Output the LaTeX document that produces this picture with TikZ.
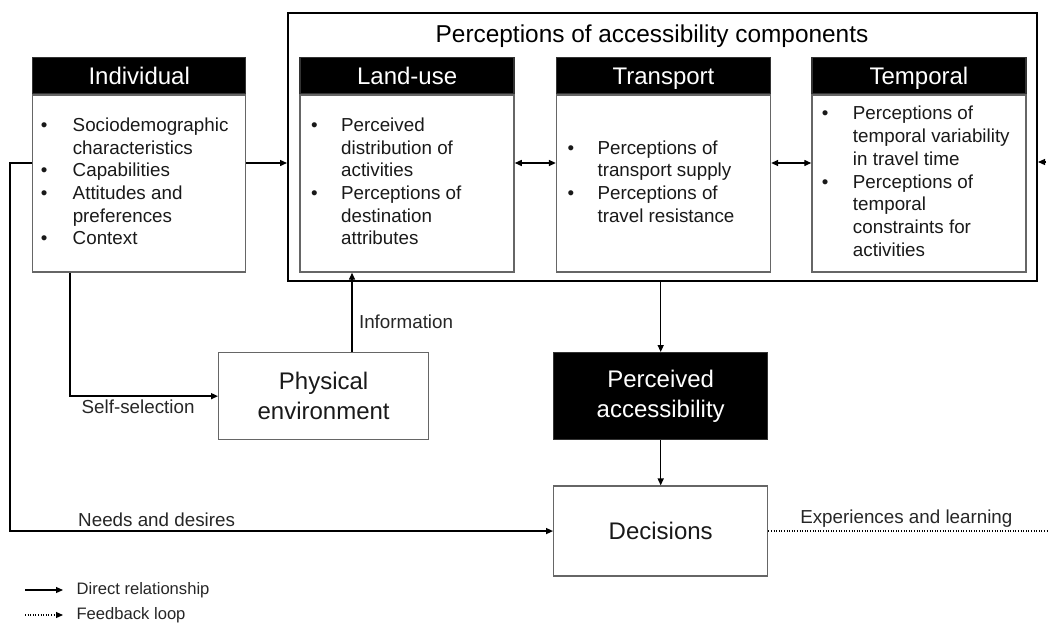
\documentclass[tikz,border=0pt]{standalone}
\usepackage{fontspec}
\setmainfont{Liberation Sans}
\usetikzlibrary{arrows.meta,positioning}

\newcommand\bodyfont{\fontsize{18.8}{22.7}\selectfont}
\newcommand\headfont{\fontsize{24}{29.5}\selectfont}
\newcommand\lgdfont{\fontsize{16.6}{19}\selectfont}

\begin{document}
\begin{tikzpicture}[x=1pt,y=-1pt,>={Triangle[length=7pt,width=6pt]},line width=1.4pt,
    hdr/.style={fill=black,draw=black!80,text=white,font=\headfont,minimum width=214,
      minimum height=36,text height=19.5pt,text depth=2.5pt,inner sep=0,anchor=north west},
    panel/.style={draw=black!60,line width=1.3pt,minimum width=214,minimum height=177,inner sep=0},
    lst/.style={font=\bodyfont,text=black!90,inner sep=0,anchor=west,align=left},
    blk/.style={fill=black,draw=black!80,text=white,font=\headfont,align=center,inner sep=0,
      minimum width=214,minimum height=87,anchor=north west},
    wbox/.style={draw=black!60,line width=1.3pt,font=\headfont,text=black!90,align=center,
      inner sep=0,anchor=north west},
    lbl/.style={font=\bodyfont,text=black!85},
    lgd/.style={font=\lgdfont,text=black!85,inner sep=0},
    arr/.style={->},
    fback/.style={->,line width=1.2pt,dash pattern=on 1pt off 1.6pt}]

  \useasboundingbox (0,0) rectangle (1048,626);

  % accessibility components
  \node[draw=black,line width=2pt,minimum width=749,minimum height=268,inner sep=0,
    anchor=north west] (comp) at (287,12) {};
  \node[font=\fontsize{24.4}{29}\selectfont] (ttl) at (652,36) {Perceptions of accessibility components};

  \node[hdr,minimum width=213] (indh) at (32,57) {Individual};
  \node[hdr,right=53pt of indh] (luh) {Land-use};
  \node[hdr,right=41pt of luh] (trh) {Transport};
  \node[hdr,right=40pt of trh] (tmh) {Temporal};

  \node[panel,minimum width=213,below=0pt of indh] (ind) {};
  \node[panel,below=0pt of luh] (lu) {};
  \node[panel,below=0pt of trh] (tr) {};
  \node[panel,below=0pt of tmh] (tm) {};

  \node[lst] (indtxt) at ([xshift=8]ind.west) {\begin{tabular}{@{}p{32pt}@{}l@{}}
    \textbullet & Sociodemographic\\ & characteristics\\
    \textbullet & Capabilities\\
    \textbullet & Attitudes and\\ & preferences\\
    \textbullet & Context\end{tabular}};
  \node[lst] (lutxt) at ([xshift=11]lu.west) {\begin{tabular}{@{}p{30pt}@{}l@{}}
    \textbullet & Perceived\\ & distribution of\\ & activities\\
    \textbullet & Perceptions of\\ & destination\\ & attributes\end{tabular}};
  \node[lst] (trtxt) at ([xshift=11]tr.west) {\begin{tabular}{@{}p{30pt}@{}l@{}}
    \textbullet & Perceptions of\\ & transport supply\\
    \textbullet & Perceptions of\\ & travel resistance\end{tabular}};
  \node[lst] (tmtxt) at ([xshift=10]tm.west) {\begin{tabular}{@{}p{31pt}@{}l@{}}
    \textbullet & Perceptions of\\ & temporal variability\\ & in travel time\\
    \textbullet & Perceptions of\\ & temporal\\ & constraints for\\ & activities\end{tabular}};

  % lower boxes
  \node[wbox,minimum width=210,minimum height=87] (phys) at (218,352) {Physical\\environment};
  \node[blk] (perc) at (553,352) {Perceived\\accessibility};
  \node[wbox,minimum width=214,minimum height=90,below=45pt of perc] (dec) {Decisions};

  \coordinate (mid) at (0,163);
  \coordinate (lft) at (10,0);
  \coordinate (ssel) at (70,0);
  \coordinate (info) at (352,0);
  \coordinate (fb) at (1062,162);

  \draw[arr] (ind.east |- mid) -- (comp.west |- mid);
  \draw[<->] (lu.east |- mid) -- (tr.west |- mid);
  \draw[<->] (tr.east |- mid) -- (tm.west |- mid);
  \draw[arr] (ind.west |- mid) -| (lft |- dec.west)
    -- node[lbl,above,pos=0.27] {Needs and desires} (dec.west);
  \draw[arr] (ind.south -| ssel) |- node[lbl,below,pos=0.73] {Self-selection} (phys.west);
  \draw[arr] (phys.north -| info)
    -- node[lbl,right,pos=0.38,xshift=3] {Information} (lu.south -| info);
  \draw[arr] (comp.south -| perc.north) -- (perc.north);
  \draw[arr] (perc.south) -- (dec.north);
  \draw[fback] (dec.east) -| node[lbl,above,pos=0.235] {Experiences and learning} (fb)
    -- (comp.east |- fb);

  % legend
  \coordinate (lg1) at (25,590);
  \coordinate (lg2) at (25,615);
  \draw[arr,line width=1.2pt] (lg1) -- ++(38,0) node[lgd,right=13pt] (lgt1) {Direct relationship};
  \draw[fback] (lg2) -- ++(38,0) node[lgd,right=13pt] (lgt2) {Feedback loop};
\end{tikzpicture}
\end{document}
